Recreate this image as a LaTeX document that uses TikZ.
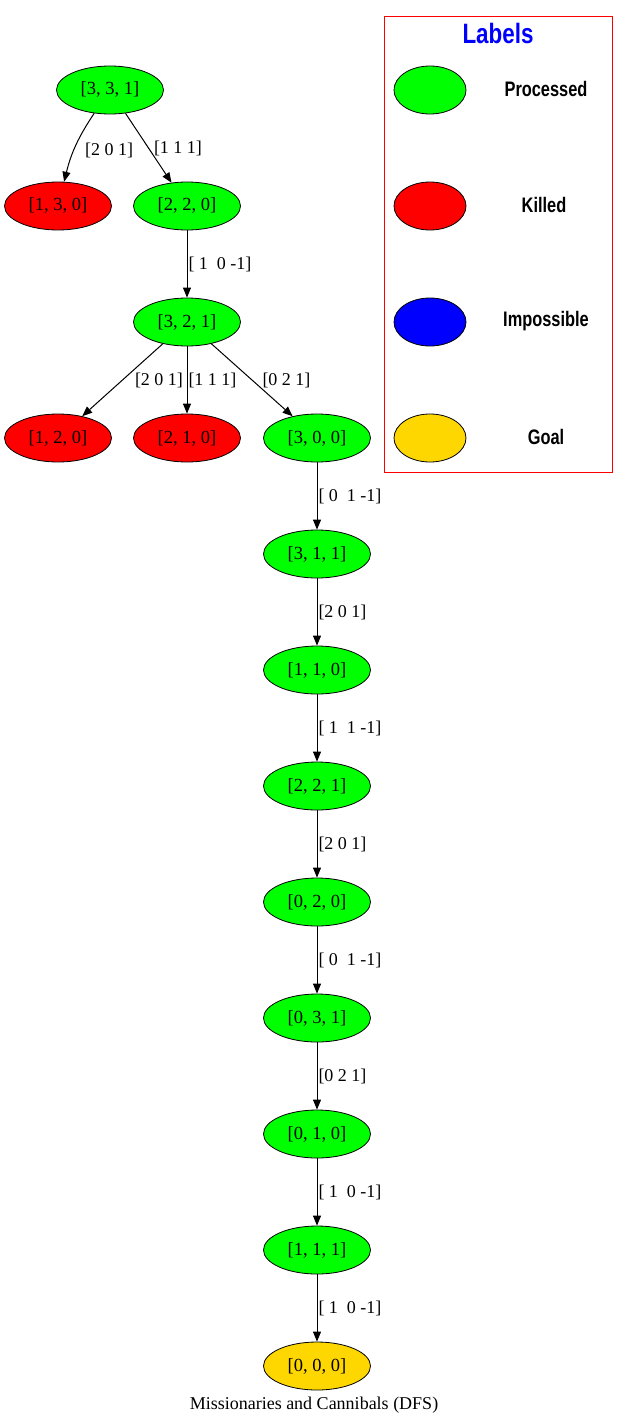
\documentclass[tikz,border=0pt]{standalone}
\usepackage{fontspec}
\setmainfont{Liberation Serif}
\newfontfamily\legfont{Liberation Sans}
\usetikzlibrary{arrows.meta,shapes.geometric}
\definecolor{procgreen}{HTML}{00FF00}
\definecolor{killred}{HTML}{FF0000}
\definecolor{impblue}{HTML}{0000FF}
\definecolor{goalgold}{HTML}{FFD700}
\begin{document}
\begin{tikzpicture}[x=1pt,y=-1pt,
  state/.style={ellipse, draw=black, line width=0.8pt, minimum width=107pt, minimum height=48pt, inner sep=0pt, font=\fontsize{18.5}{20}\selectfont},
  proc/.style={state, fill=procgreen},
  killed/.style={state, fill=killred},
  goal/.style={state, fill=goalgold},
  legell/.style={ellipse, draw=black, line width=0.8pt, minimum width=72pt, minimum height=48pt, inner sep=0pt},
  legtext/.style={font=\legfont\bfseries\fontsize{21}{22}\selectfont, inner sep=0pt},
  edge/.style={draw=black, line width=1pt, -{Triangle[length=10pt,width=8pt]}},
  lab/.style={font=\fontsize{18}{20}\selectfont, anchor=west, inner sep=1pt}
]
\useasboundingbox (0,0) rectangle (629,1427);
% tree nodes
\node[proc] (n331) at (110,90) {[3, 3, 1]};
\node[killed] (n130) at (58,206) {[1, 3, 0]};
\node[proc] (n220) at (187,206) {[2, 2, 0]};
\node[proc] (n321) at (187,322) {[3, 2, 1]};
\node[killed] (n120) at (58,438) {[1, 2, 0]};
\node[killed] (n210) at (187,438) {[2, 1, 0]};
\node[proc] (n300) at (317,438) {[3, 0, 0]};
\node[proc] (n311) at (317,554) {[3, 1, 1]};
\node[proc] (n110) at (317,670) {[1, 1, 0]};
\node[proc] (n221) at (317,786) {[2, 2, 1]};
\node[proc] (n020) at (317,902) {[0, 2, 0]};
\node[proc] (n031) at (317,1018) {[0, 3, 1]};
\node[proc] (n010) at (317,1134) {[0, 1, 0]};
\node[proc] (n111) at (317,1250) {[1, 1, 1]};
\node[goal] (n000) at (317,1366) {[0, 0, 0]};
% edges
\draw[edge] (n331) to[bend right=10] node[lab, pos=0.5, xshift=8pt, yshift=-4pt] {[2 0 1]} (n130);
\draw[edge] (n331) -- node[lab, pos=0.5, xshift=4pt] {[1 1 1]} (n220);
\draw[edge] (n220) -- node[lab, pos=0.5] {[\ 1\ \ 0 -1]} (n321);
\draw[edge] (n321) -- node[lab, pos=0.5, xshift=11pt] {[2 0 1]} (n120);
\draw[edge] (n321) -- node[lab, pos=0.5] {[1 1 1]} (n210);
\draw[edge] (n321) -- node[lab, pos=0.5, xshift=9pt] {[0 2 1]} (n300);
\draw[edge] (n300) -- node[lab, pos=0.5] {[\ 0\ \ 1 -1]} (n311);
\draw[edge] (n311) -- node[lab, pos=0.5] {[2 0 1]} (n110);
\draw[edge] (n110) -- node[lab, pos=0.5] {[\ 1\ \ 1 -1]} (n221);
\draw[edge] (n221) -- node[lab, pos=0.5] {[2 0 1]} (n020);
\draw[edge] (n020) -- node[lab, pos=0.5] {[\ 0\ \ 1 -1]} (n031);
\draw[edge] (n031) -- node[lab, pos=0.5] {[0 2 1]} (n010);
\draw[edge] (n010) -- node[lab, pos=0.5] {[\ 1\ \ 0 -1]} (n111);
\draw[edge] (n111) -- node[lab, pos=0.5] {[\ 1\ \ 0 -1]} (n000);
% title
\node[font=\fontsize{18}{20}\selectfont, inner sep=0pt] (title) at (314,1405) {Missionaries and Cannibals (DFS)};
% legend
\node[draw=killred, line width=0.8pt, minimum width=228pt, minimum height=456pt, inner sep=0pt] (legbox) at (498,244) {};
\node[font=\legfont\bfseries\fontsize{28}{30}\selectfont, text=impblue, inner sep=0pt] (legtitle) at (498,33) {\scalebox{0.8}[1]{Labels}};
\node[legell, fill=procgreen] (lg1) at (430,90) {};
\node[legell, fill=killred] (lg2) at (430,206) {};
\node[legell, fill=impblue] (lg3) at (430,322) {};
\node[legell, fill=goalgold] (lg4) at (430,438) {};
\node[legtext] (lt1) at (546,89) {\scalebox{0.78}[1]{Processed}};
\node[legtext] (lt2) at (544,205) {\scalebox{0.78}[1]{Killed}};
\node[legtext] (lt3) at (546,321) {\scalebox{0.78}[1]{Impossible}};
\node[legtext] (lt4) at (546,437) {\scalebox{0.78}[1]{Goal}};
\end{tikzpicture}
\end{document}
